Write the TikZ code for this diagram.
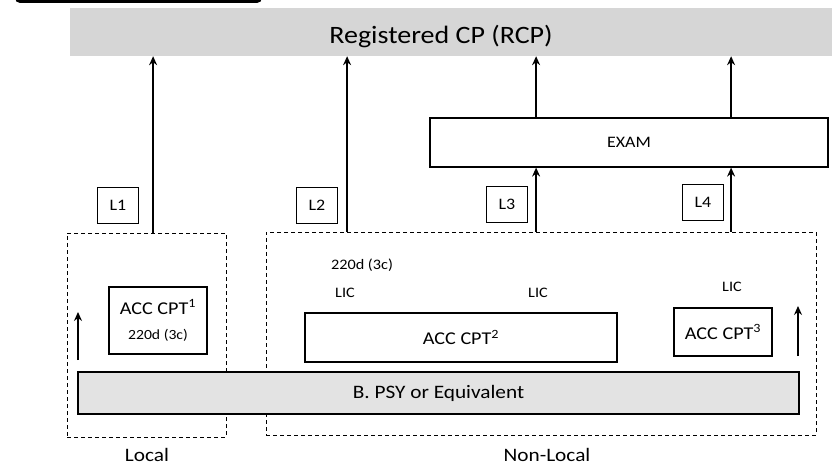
\documentclass[tikz,border=0pt]{standalone}
\usepackage{fontspec}
\setmainfont{Carlito}[FakeStretch=1.12]
\usetikzlibrary{positioning,arrows.meta}

\begin{document}
\begin{tikzpicture}[x=1pt,y=-1pt,>={Stealth[length=9pt,width=8pt,inset=3pt]},
  lbox/.style={draw,line width=1.2pt,inner sep=0pt,minimum width=41pt,minimum height=36pt,font=\fontsize{16}{18}\selectfont},
  cbox/.style={draw,line width=1.2pt,inner sep=0pt,font=\fontsize{18}{21}\selectfont},
  region/.style={draw,dash pattern=on 4pt off 3pt,line width=1pt,inner sep=0pt},
  up/.style={->,line width=1.6pt},
  tag/.style={font=\fontsize{14.5}{16}\selectfont}]
\useasboundingbox (0,0) rectangle (832,473);
\fill[rounded corners=5pt] (15,-12) rectangle (262,3);
\node[fill=black!16,minimum width=762pt,minimum height=48pt,inner sep=0pt] (band) at (451,32) {};
\node[font=\fontsize{25}{28}\selectfont] (rcp) at (441,37) {Registered CP (RCP)};
\node[cbox,minimum width=398pt,minimum height=49pt,font=\fontsize{16}{18}\selectfont] (exam) at (629,142.5) {EXAM};
\node[lbox] (l1) at (118,205.5) {L1};
\node[lbox] (l2) at (317,205.5) {L2};
\node[lbox] (l3) at (507,204.5) {L3};
\node[lbox] (l4) at (703,202.5) {L4};
\node[region,minimum width=159pt,minimum height=204pt] (local) at (146.5,335) {};
\node[region,minimum width=550pt,minimum height=203pt] (nonlocal) at (541,333.5) {};
\node[draw,line width=1.2pt,fill=black!11,minimum width=721pt,minimum height=42pt,inner sep=0pt,font=\fontsize{19}{22}\selectfont] (psy) at (438.5,393) {B. PSY or Equivalent};
\node[cbox,minimum width=98pt,minimum height=67pt,align=center] (acc1) at (158,320.5) {ACC CPT\textsuperscript{1}\\[4pt]{\fontsize{14}{16}\selectfont 220d (3c)}};
\node[cbox,minimum width=312pt,minimum height=49pt] (acc2) at (461,337.5) {ACC CPT\textsuperscript{2}};
\node[cbox,minimum width=98pt,minimum height=48pt] (acc3) at (723,332) {ACC CPT\textsuperscript{3}};
\node[tag] (days) at (362,265) {220d (3c)};
\node[tag] (lic1) at (345,293) {LIC};
\node[tag] (lic2) at (538,293) {LIC};
\node[tag] (lic3) at (732,287) {LIC};
\node[font=\fontsize{19}{22}\selectfont] (loc) at (147,455) {Local};
\node[font=\fontsize{19}{22}\selectfont] (nonloc) at (547,455) {Non-Local};
% routes up to registration
\draw[up] ([xshift=14pt]l1.east |- local.north) -- ([xshift=14pt]l1.east |- band.south);
\draw[up] ([xshift=9pt]l2.east |- nonlocal.north) -- ([xshift=9pt]l2.east |- band.south);
\draw[up] ([xshift=8pt]l3.east |- nonlocal.north) -- ([xshift=8pt]l3.east |- exam.south);
\draw[up] ([xshift=7pt]l4.east |- nonlocal.north) -- ([xshift=7pt]l4.east |- exam.south);
\draw[up] ([xshift=8pt]l3.east |- exam.north) -- ([xshift=8pt]l3.east |- band.south);
\draw[up] ([xshift=7pt]l4.east |- exam.north) -- ([xshift=7pt]l4.east |- band.south);
% side arrows
\coordinate (lb) at (78,360);
\coordinate (lt) at (78,312);
\coordinate (rb) at (798,356);
\coordinate (rt) at (798,306);
\draw[up] (lb) -- (lt);
\draw[up] (rb) -- (rt);
\end{tikzpicture}
\end{document}
